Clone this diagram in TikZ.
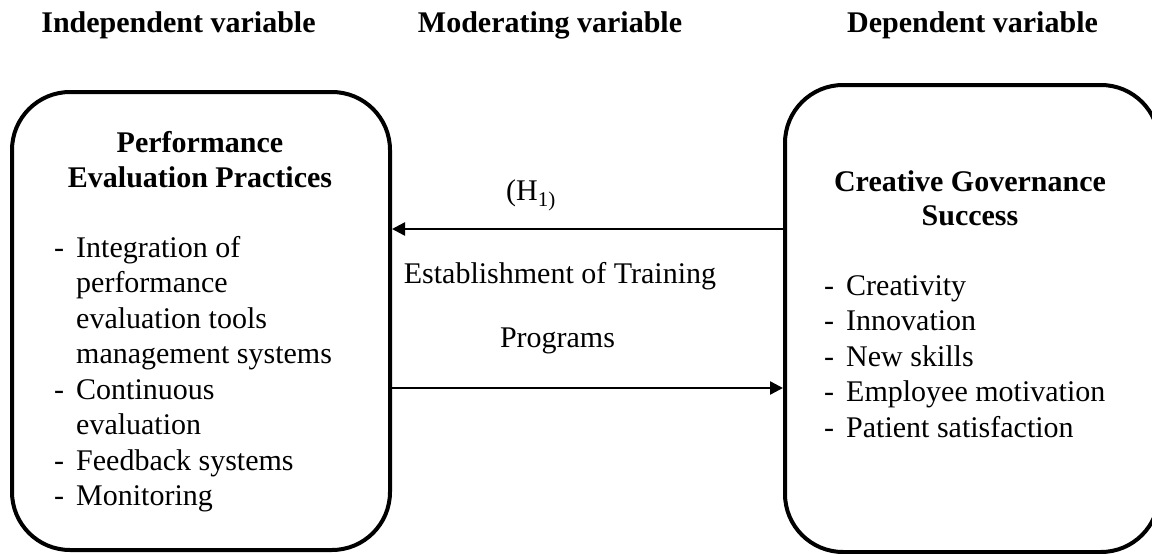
\documentclass[tikz,border=0pt]{standalone}
\usepackage{fontspec}
\setmainfont{Liberation Serif}
\usetikzlibrary{arrows.meta}
\begin{document}
\begin{tikzpicture}[x=1pt,y=-1pt,
  box/.style={draw, line width=4pt, rounded corners=58pt, inner sep=0pt},
  hdr/.style={font=\fontsize{30}{35.5}\selectfont\bfseries, inner sep=0pt, anchor=base},
  ttl/.style={font=\fontsize{30}{35.5}\selectfont\bfseries, inner sep=0pt, anchor=base},
  txt/.style={font=\fontsize{30}{35.5}\selectfont, inner sep=0pt},
  conn/.style={line width=2.4pt, -{Triangle[length=13pt,width=13pt]}}
]
\useasboundingbox (0,0) rectangle (1152,554);
\fill[white] (0,0) rectangle (1152,554);
\begin{scope}
\clip (0,0) rectangle (1152,554);
% headers
\node[hdr] (h1) at (178.5,32) {Independent variable};
\node[hdr] (h2) at (550,32) {Moderating variable};
\node[hdr] (h3) at (972.5,32) {Dependent variable};
% boxes
\node[box, minimum width=378pt, minimum height=458pt] (L) at (201,321) {};
\node[box, minimum width=374pt, minimum height=467pt] (R) at (972,318.5) {};
% left box content
\node[ttl] (lt1) at (200,152) {Performance};
\node[ttl] (lt2) at (200,187) {Evaluation Practices};
\node[txt, anchor=base west] (llist) at (54,257) {%
  \begin{tabular}[t]{@{}l@{\hspace{12pt}}l@{}}
  - & Integration of\\
    & performance\\
    & evaluation tools\\
    & management systems\\
  - & Continuous\\
    & evaluation\\
  - & Feedback systems\\
  - & Monitoring
  \end{tabular}};
% right box content
\node[ttl] (rt1) at (970,191) {Creative Governance};
\node[ttl] (rt2) at (970,225) {Success};
\node[txt, anchor=base west] (rlist) at (824,295) {%
  \begin{tabular}[t]{@{}l@{\hspace{12pt}}l@{}}
  - & Creativity\\
  - & Innovation\\
  - & New skills\\
  - & Employee motivation\\
  - & Patient satisfaction
  \end{tabular}};
% middle texts
\node[txt, anchor=base] (hyp) at (531,200) {(H\textsubscript{1)}};
\node[txt, anchor=base] (mod1) at (560,283) {Establishment of Training};
\node[txt, anchor=base] (mod2) at (557.5,347) {Programs};
% connectors
\coordinate (ya) at (0,229);
\coordinate (yb) at (0,388);
\draw[conn] (R.west |- ya) -- (L.east |- ya);
\draw[conn] (L.east |- yb) -- (R.west |- yb);
\end{scope}
\end{tikzpicture}
\end{document}
